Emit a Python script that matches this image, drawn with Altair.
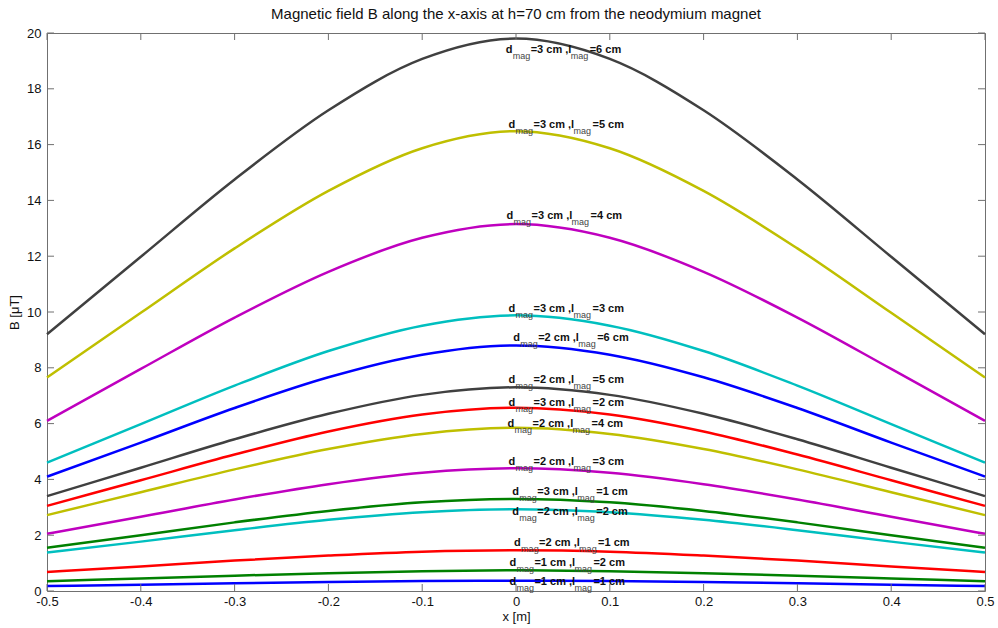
import altair as alt
import pandas as pd

# ---------------- data ----------------
x_vals = [-0.5, -0.4, -0.3, -0.2, -0.1, 0.0, 0.1, 0.2, 0.3, 0.4, 0.5]

b_d3_l6 = [9.20, 11.98, 14.75, 17.23, 19.07, 19.80, 19.07, 17.23, 14.75, 11.98, 9.20]
b_d3_l5 = [7.65, 9.97, 12.28, 14.34, 15.87, 16.48, 15.87, 14.34, 12.28, 9.97, 7.65]
b_d3_l4 = [6.10, 7.96, 9.80, 11.44, 12.66, 13.15, 12.66, 11.44, 9.80, 7.96, 6.10]
b_d3_l3 = [4.60, 5.98, 7.36, 8.60, 9.51, 9.88, 9.51, 8.60, 7.36, 5.98, 4.60]
b_d2_l6 = [4.10, 5.32, 6.56, 7.66, 8.47, 8.80, 8.47, 7.66, 6.56, 5.32, 4.10]
b_d2_l5 = [3.40, 4.42, 5.44, 6.35, 7.03, 7.30, 7.03, 6.35, 5.44, 4.42, 3.40]
b_d3_l2 = [3.05, 3.97, 4.89, 5.72, 6.33, 6.57, 6.33, 5.72, 4.89, 3.97, 3.05]
b_d2_l4 = [2.72, 3.54, 4.36, 5.09, 5.63, 5.85, 5.63, 5.09, 4.36, 3.54, 2.72]
b_d2_l3 = [2.05, 2.66, 3.28, 3.83, 4.24, 4.40, 4.24, 3.83, 3.28, 2.66, 2.05]
b_d3_l1 = [1.55, 2.00, 2.46, 2.87, 3.18, 3.30, 3.18, 2.87, 2.46, 2.00, 1.55]
b_d2_l2 = [1.38, 1.77, 2.18, 2.55, 2.82, 2.93, 2.82, 2.55, 2.18, 1.77, 1.38]
b_d2_l1 = [0.68, 0.88, 1.09, 1.27, 1.41, 1.46, 1.41, 1.27, 1.09, 0.88, 0.68]
b_d1_l2 = [0.35, 0.45, 0.55, 0.64, 0.71, 0.74, 0.71, 0.64, 0.55, 0.45, 0.35]
b_d1_l1 = [0.18, 0.22, 0.28, 0.32, 0.36, 0.37, 0.36, 0.32, 0.28, 0.22, 0.18]

series_values = [b_d3_l6, b_d3_l5, b_d3_l4, b_d3_l3, b_d2_l6, b_d2_l5, b_d3_l2,
                 b_d2_l4, b_d2_l3, b_d3_l1, b_d2_l2, b_d2_l1, b_d1_l2, b_d1_l1]
d_mag = [3, 3, 3, 3, 2, 2, 3, 2, 2, 3, 2, 2, 1, 1]
l_mag = [6, 5, 4, 3, 6, 5, 2, 4, 3, 1, 2, 1, 2, 1]
colors = ["#404040", "#BFBF00", "#BF00BF", "#00BFBF", "#0000FF", "#404040", "#FF0000",
          "#BFBF00", "#BF00BF", "#008000", "#00BFBF", "#FF0000", "#008000", "#0000FF"]

# label anchor positions (data coordinates)
label_x = [-0.011, -0.008, -0.010, -0.008, -0.003, -0.008, -0.008,
           -0.009, -0.008, -0.004, -0.004, -0.002, -0.007, -0.007]
label_y = [19.39, 16.70, 13.44, 10.11, 9.07, 7.56, 6.74,
           5.99, 4.62, 3.55, 2.83, 1.72, 1.00, 0.32]

x_ticks = [-0.5, -0.4, -0.3, -0.2, -0.1, 0.0, 0.1, 0.2, 0.3, 0.4, 0.5]
y_ticks = [0, 2, 4, 6, 8, 10, 12, 14, 16, 18, 20]

# ---------------- tables ----------------
rows = []
for i, vals in enumerate(series_values):
    for xv, bv in zip(x_vals, vals):
        rows.append({"s": f"s{i:02d}", "x": xv, "B": bv})
df = pd.DataFrame(rows)
series_ids = [f"s{i:02d}" for i in range(len(series_values))]

lab = pd.DataFrame({
    "lx": label_x, "ly": label_y,
    "t_d": ["d"] * len(d_mag),
    "t_sub": ["mag"] * len(d_mag),
    "t_mid": [f"={d} cm ,l" for d in d_mag],
    "t_end": [f"={l} cm" for l in l_mag],
})

W, H = 938, 558
FONT = "Liberation Sans"

xs = alt.Scale(domain=[-0.5, 0.5], nice=False, zero=False)
ys = alt.Scale(domain=[0, 20], nice=False)

lines = alt.Chart(df).mark_line(strokeWidth=2.5, interpolate="monotone").encode(
    x=alt.X("x:Q", scale=xs,
            axis=alt.Axis(values=x_ticks, title="x [m]", ticks=False, domain=False, grid=False,
                          labelExpr="datum.value == 0 ? '0' : (datum.value < 0 ? '-' : '') + format(abs(datum.value), '.1f')",
                          labelPadding=4, titlePadding=2, labelFlush=False, labelOverlap=False,
                          labelFont=FONT, labelFontSize=13, labelColor="#111111",
                          titleFont=FONT, titleFontSize=13, titleFontWeight="normal", titleColor="#111111")),
    y=alt.Y("B:Q", scale=ys,
            axis=alt.Axis(values=y_ticks, title="B [\u03bcT]", ticks=False, domain=False, grid=False,
                          format="d", labelPadding=6, titlePadding=5, labelFlush=False, labelOverlap=False,
                          labelFont=FONT, labelFontSize=13, labelColor="#111111",
                          titleFont=FONT, titleFontSize=13, titleFontWeight="normal", titleColor="#111111")),
    color=alt.Color("s:N", scale=alt.Scale(domain=series_ids, range=colors), legend=None),
    detail="s:N",
)

base = alt.Chart(lab).encode(
    x=alt.X("lx:Q", scale=xs),
    y=alt.Y("ly:Q", scale=ys),
)
main_style = dict(align="left", baseline="middle", fontSize=11, fontWeight="bold",
                  font=FONT, color="#111111")
sub_style = dict(align="left", baseline="middle", fontSize=9, font=FONT, color="#444444")

t_d = base.mark_text(dx=0, **main_style).encode(text="t_d:N")
t_sub1 = base.mark_text(dx=7, dy=6, **sub_style).encode(text="t_sub:N")
t_mid = base.mark_text(dx=25, **main_style).encode(text="t_mid:N")
t_sub2 = base.mark_text(dx=65, dy=6, **sub_style).encode(text="t_sub:N")
t_end = base.mark_text(dx=84, **main_style).encode(text="t_end:N")

# inward ticks (MATLAB-style box ticks)
xt = pd.DataFrame({"v": x_ticks})
yt = pd.DataFrame({"v": y_ticks})
tick_color = "#707070"
xt_bottom = alt.Chart(xt).mark_rule(color=tick_color, strokeWidth=1).encode(
    x=alt.X("v:Q", scale=xs), y=alt.value(H), y2=alt.value(H - 7))
xt_top = alt.Chart(xt).mark_rule(color=tick_color, strokeWidth=1).encode(
    x=alt.X("v:Q", scale=xs), y=alt.value(0), y2=alt.value(7))
yt_left = alt.Chart(yt).mark_rule(color=tick_color, strokeWidth=1).encode(
    y=alt.Y("v:Q", scale=ys), x=alt.value(0), x2=alt.value(7))
yt_right = alt.Chart(yt).mark_rule(color=tick_color, strokeWidth=1).encode(
    y=alt.Y("v:Q", scale=ys), x=alt.value(W), x2=alt.value(W - 7))

chart = alt.layer(
    lines, xt_bottom, xt_top, yt_left, yt_right, t_d, t_sub1, t_mid, t_sub2, t_end
).properties(
    width=W, height=H,
    background="white",
    title=alt.TitleParams(
        "Magnetic field B along the x-axis at h=70 cm from the neodymium magnet",
        fontSize=15, fontWeight="normal", font=FONT, color="#111111", anchor="middle", offset=5),
    autosize=alt.AutoSizeParams(type="none"),
    padding={"left": 47, "top": 33, "right": 13, "bottom": 37},
).configure_view(
    stroke="#707070", strokeWidth=1
)

chart.save("out.html", embed_options={"renderer": "svg", "actions": False})
